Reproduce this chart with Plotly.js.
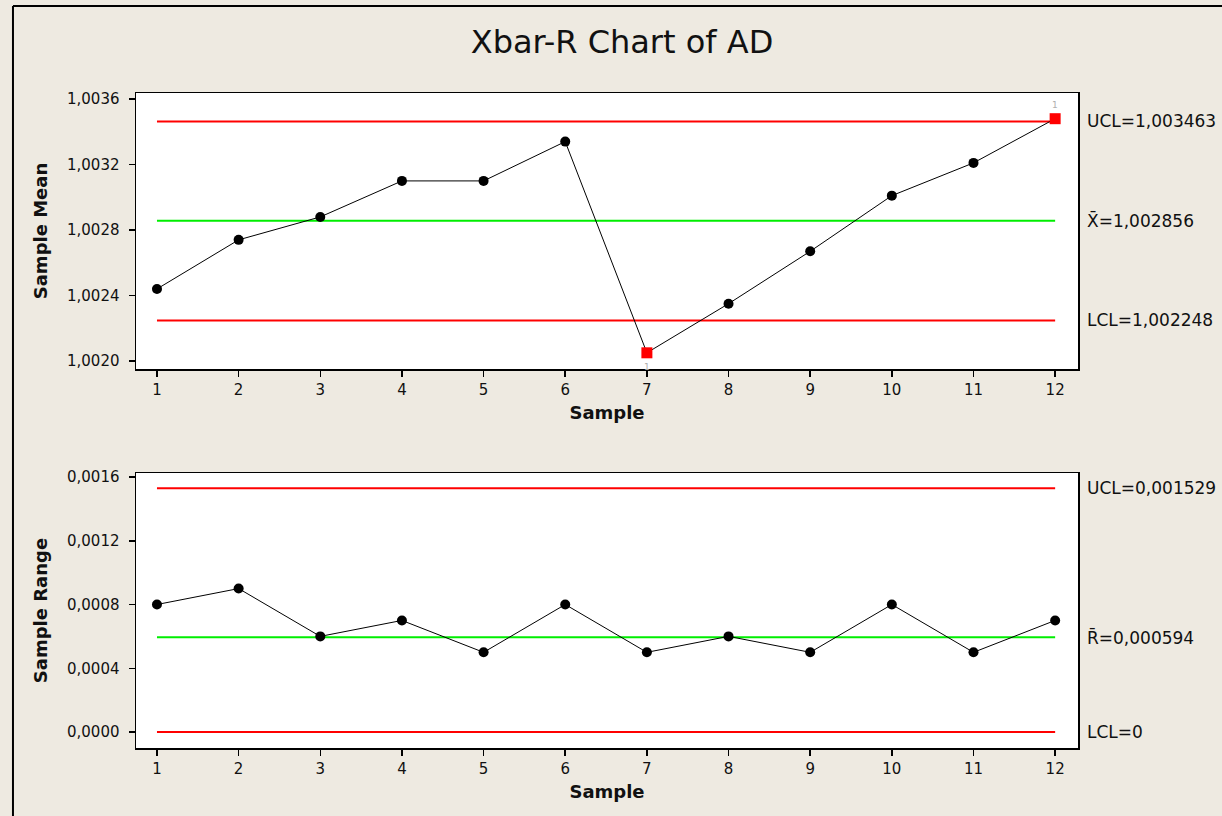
<!DOCTYPE html>
<html>
<head>
<meta charset="utf-8">
<script src="https://cdn.plot.ly/plotly-3.0.1.min.js"></script>
<style>
  html, body { margin: 0; padding: 0; background: #EEEAE1; }
  #chart { width: 1222px; height: 816px; }
</style>
</head>
<body>
<div id="chart"></div>
<script>
// ---- data ----
const samples = [1, 2, 3, 4, 5, 6, 7, 8, 9, 10, 11, 12];
const sampleMeans = [1.00244, 1.00274, 1.00288, 1.00310, 1.00310, 1.00334, 1.00205, 1.00235, 1.00267, 1.00301, 1.00321, 1.00348];
const sampleRanges = [0.0008, 0.0009, 0.0006, 0.0007, 0.0005, 0.0008, 0.0005, 0.0006, 0.0005, 0.0008, 0.0005, 0.0007];
const meanLimits = { ucl: 1.003463, center: 1.002856, lcl: 1.002248 };
const rangeLimits = { ucl: 0.001529, center: 0.000594, lcl: 0 };
const meanLimitLabels = ["UCL=1,003463", "X\u0304=1,002856", "LCL=1,002248"];
const rangeLimitLabels = ["UCL=0,001529", "R\u0304=0,000594", "LCL=0"];
const meanTickVals = [1.0020, 1.0024, 1.0028, 1.0032, 1.0036];
const meanTickText = ["1,0020", "1,0024", "1,0028", "1,0032", "1,0036"];
const rangeTickVals = [0, 0.0004, 0.0008, 0.0012, 0.0016];
const rangeTickText = ["0,0000", "0,0004", "0,0008", "0,0012", "0,0016"];
const xTickText = samples.map(String);

// ---- styling helpers ----
const FONT = "DejaVu Sans, Verdana, sans-serif";
const RED = "#FF0000", GREEN = "#00EE00";
const first = samples[0], last = samples[samples.length - 1];

function limitTrace(val, color, xa, ya) {
  return { x: [first, last], y: [val, val], xaxis: xa, yaxis: ya, mode: "lines",
           line: { color: color, width: 2 }, hoverinfo: "skip", showlegend: false };
}

const outMean = sampleMeans.map(v => v > meanLimits.ucl || v < meanLimits.lcl);
const outRange = sampleRanges.map(v => v > rangeLimits.ucl || v < rangeLimits.lcl);

function dataTrace(xs, ys, out, xa, ya) {
  return { x: xs, y: ys, xaxis: xa, yaxis: ya, mode: "lines+markers",
    line: { color: "#000", width: 1 },
    marker: { size: out.map(o => o ? 11 : 10), color: out.map(o => o ? RED : "#000"),
              symbol: out.map(o => o ? "square" : "circle"), opacity: 1, line: { width: 0 } },
    showlegend: false };
}

const traces = [
  limitTrace(meanLimits.ucl, RED, "x", "y"),
  limitTrace(meanLimits.center, GREEN, "x", "y"),
  limitTrace(meanLimits.lcl, RED, "x", "y"),
  limitTrace(rangeLimits.ucl, RED, "x2", "y2"),
  limitTrace(rangeLimits.center, GREEN, "x2", "y2"),
  limitTrace(rangeLimits.lcl, RED, "x2", "y2"),
  dataTrace(samples, sampleMeans, outMean, "x", "y"),
  dataTrace(samples, sampleRanges, outRange, "x2", "y2")
];

const tickFont = { family: FONT, size: 15, color: "#111" };
const titleFont = { family: FONT, size: 18, color: "#111", weight: "bold" };

function xAxis(anchor) {
  return { anchor: anchor, range: [0.743, 12.28], tickvals: samples, ticktext: xTickText,
           showgrid: false, zeroline: false, showline: true, mirror: true, linecolor: "#000", linewidth: 1.5,
           ticks: "outside", ticklen: 6, tickwidth: 1.5, tickcolor: "#000", tickfont: tickFont,
           title: { text: "<b>Sample</b>", font: titleFont, standoff: 9 }, automargin: false };
}
function yAxis(anchor, domain, range, vals, text, title) {
  return { anchor: anchor, domain: domain, range: range, tickvals: vals, ticktext: text,
           showgrid: false, zeroline: false, showline: true, mirror: true, linecolor: "#000", linewidth: 1.5,
           ticks: "outside", ticklen: 6, tickwidth: 1.5, tickcolor: "#000", tickfont: tickFont,
           ticklabelstandoff: 6,
           title: { text: "<b>" + title + "</b>", font: titleFont, standoff: 14 }, automargin: false };
}

const annotations = [];
const mVals = [meanLimits.ucl, meanLimits.center, meanLimits.lcl];
mVals.forEach((v, i) => annotations.push({ xref: "paper", yref: "y", x: 1, y: v, xshift: 7,
  xanchor: "left", yanchor: "middle", text: meanLimitLabels[i], showarrow: false,
  font: { family: FONT, size: 17, color: "#111" } }));
const rVals = [rangeLimits.ucl, rangeLimits.center, rangeLimits.lcl];
rVals.forEach((v, i) => annotations.push({ xref: "paper", yref: "y2", x: 1, y: v, xshift: 7,
  xanchor: "left", yanchor: "middle", text: rangeLimitLabels[i], showarrow: false,
  font: { family: FONT, size: 17, color: "#111" } }));
// test failure flags "1" on out-of-control points
sampleMeans.forEach((v, i) => {
  if (outMean[i]) {
    const above = v > meanLimits.ucl;
    annotations.push({ xref: "x", yref: "y", x: samples[i], y: v, yshift: above ? 14 : -14,
      text: "1", showarrow: false, font: { family: FONT, size: 9, color: "#b0b0b0" } });
  }
});

const layout = {
  width: 1222, height: 816,
  paper_bgcolor: "#EEEAE1", plot_bgcolor: "#FFFFFF",
  margin: { l: 136, r: 144, t: 93, b: 68, autoexpand: false },
  title: { text: "Xbar-R Chart of AD", x: 622 / 1222, xref: "container", xanchor: "center",
           y: 1 - 42 / 816, yref: "container", yanchor: "middle",
           font: { family: FONT, size: 32, color: "#111" } },
  xaxis: xAxis("y"),
  yaxis: yAxis("x", [0.5786, 1], [1.001951, 1.003637], meanTickVals, meanTickText, "Sample Mean"),
  xaxis2: xAxis("y2"),
  yaxis2: yAxis("x2", [0, 0.4198], [-0.0001004, 0.001625], rangeTickVals, rangeTickText, "Sample Range"),
  annotations: annotations,
  shapes: [
    { type: "line", xref: "paper", yref: "paper", x0: -0.1306, x1: -0.1306, y0: -0.3, y1: 1.1328,
      line: { color: "#000", width: 2 } },
    { type: "line", xref: "paper", yref: "paper", x0: -0.1306, x1: 1.5, y0: 1.1328, y1: 1.1328,
      line: { color: "#000", width: 2 } }
  ],
  showlegend: false
};

Plotly.newPlot("chart", traces, layout, { displayModeBar: false, staticPlot: true });
</script>
</body>
</html>
